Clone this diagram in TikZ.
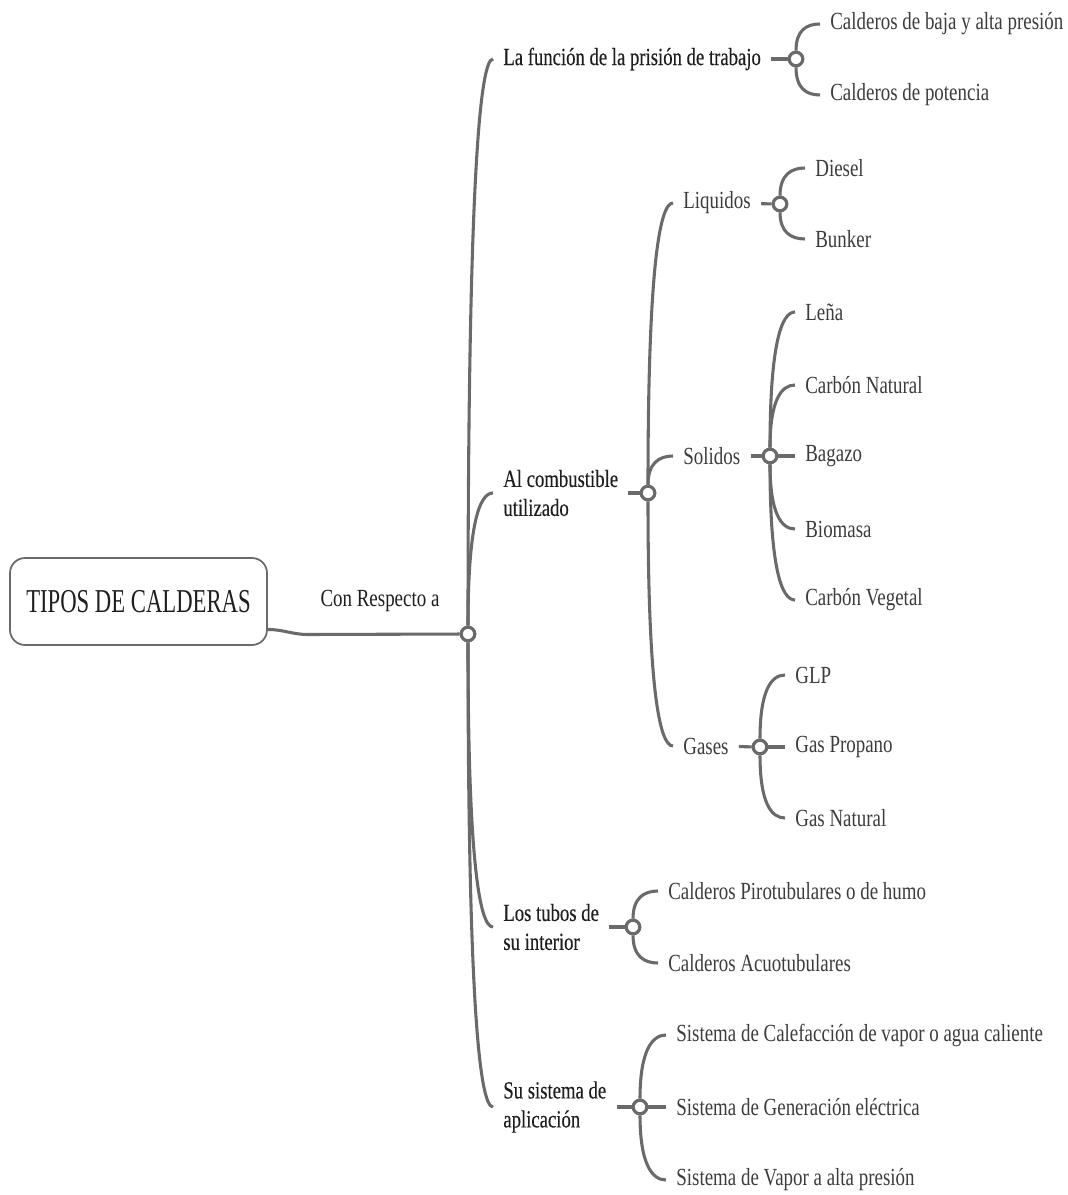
\documentclass[tikz,border=0pt]{standalone}
\usepackage{fontspec}
\setmainfont{Liberation Serif}[FakeStretch=0.77]
\newfontfamily\rootfont{Liberation Serif}[FakeStretch=0.68]
\newfontfamily\topicfont{Liberation Serif}[FakeStretch=0.76, FakeBold=0.3]
\usetikzlibrary{calc}

\definecolor{linegray}{HTML}{6A6A6A}
\definecolor{topicink}{HTML}{1E1E1E}
\definecolor{leafink}{HTML}{3C3C3C}

\tikzset{
  link/.style={draw=linegray, line width=1.75pt},
  twig/.style={to path={.. controls ($(\tikztostart)!0.75!(\tikztostart|-\tikztotarget)$)
      and ($(\tikztotarget)+(-14,0)$) .. (\tikztotarget)}},
  hub/.style={circle, draw=linegray, line width=1.75pt, fill=white,
      inner sep=0pt, minimum size=0.27cm},
  topic/.style={anchor=west, inner xsep=0.2cm, align=left, text=topicink,
      font=\topicfont\fontsize{14}{16.5}\selectfont},
  leaf/.style={anchor=west, inner xsep=0.2cm, text=leafink,
      font=\fontsize{14}{16.5}\selectfont}
}

\begin{document}
\begin{tikzpicture}[x=0.02cm, y=-0.02cm]
\useasboundingbox (0,0) rectangle (1067,1195);

% root
\node[draw=linegray, line width=1pt, rounded corners=0.3cm, minimum width=5.14cm,
  minimum height=1.74cm, text=topicink, font=\rootfont\fontsize{19}{23}\selectfont]
  (root) at (138.5,601.5) {TIPOS DE CALDERAS};
\node[text=topicink, font=\fontsize{14}{16.5}\selectfont] (resp) at (380,601) {Con Respecto a};
\node[hub] (h0) at (468,634) {};

% first level
\node[topic] (fun) at (493,59) {La función de la prisión de trabajo};
\node[topic] (comb) at (493,493) {Al combustible\\utilizado};
\node[topic] (tubos) at (493,927) {Los tubos de\\su interior};
\node[topic] (sist) at (493,1107) {Su sistema de\\aplicación};

\node[hub] (hA) at (796,59) {};
\node[hub] (hB) at (648,493) {};
\node[hub] (hC) at (633,927) {};
\node[hub] (hD) at (640,1107) {};

% presion
\node[leaf] (cbaja) at (820,24) {Calderos de baja y alta presión};
\node[leaf] (cpot) at (820,95) {Calderos de potencia};

% combustible
\node[leaf] (liq) at (673,203) {Liquidos};
\node[leaf] (sol) at (673,456) {Solidos};
\node[leaf] (gas) at (673,746) {Gases};
\node[hub] (hL) at (780,204) {};
\node[hub] (hS) at (770,456) {};
\node[hub] (hG) at (760,747) {};

\node[leaf] (dies) at (805,168) {Diesel};
\node[leaf] (bunk) at (805,239) {Bunker};

\node[leaf] (lena) at (795,312) {Leña};
\node[leaf] (cnat) at (795,385) {Carbón Natural};
\node[leaf] (bag) at (795,456) {Bagazo};
\node[leaf] (biom) at (795,529) {Biomasa};
\node[leaf] (cveg) at (795,600) {Carbón Vegetal};

\node[leaf] (glp) at (785,675) {GLP};
\node[leaf] (gprop) at (785,747) {Gas Propano};
\node[leaf] (gnat) at (785,818) {Gas Natural};

% tubos
\node[leaf] (piro) at (658,891) {Calderos Pirotubulares o de humo};
\node[leaf] (acuo) at (658,963) {Calderos Acuotubulares};

% aplicacion
\node[leaf] (scal) at (666,1035) {Sistema de Calefacción de vapor o agua caliente};
\node[leaf] (sgen) at (666,1107) {Sistema de Generación eléctrica};
\node[leaf] (svap) at (666,1180) {Sistema de Vapor a alta presión};

% connectors
\draw[link] ([yshift=-0.56cm]root.east) to[out=0, in=180] ++(40,5) -- (h0);
\draw[link, twig] (h0.north) to (fun.west);
\draw[link, twig] (h0.north) to (comb.west);
\draw[link, twig] (h0.south) to (tubos.west);
\draw[link, twig] (h0.south) to (sist.west);

\draw[link] (fun) -- (hA);
\draw[link, twig] (hA.north) to (cbaja.west);
\draw[link, twig] (hA.south) to (cpot.west);

\draw[link] (comb.east |- hB) -- (hB);
\draw[link, twig] (hB.north) to (liq.west);
\draw[link, twig] (hB.north) to (sol.west);
\draw[link, twig] (hB.south) to (gas.west);

\draw[link] (liq) -- (hL);
\draw[link, twig] (hL.north) to (dies.west);
\draw[link, twig] (hL.south) to (bunk.west);

\draw[link] (sol) -- (hS);
\draw[link, twig] (hS.north) to (lena.west);
\draw[link, twig] (hS.north) to (cnat.west);
\draw[link] (hS) -- (bag);
\draw[link, twig] (hS.south) to (biom.west);
\draw[link, twig] (hS.south) to (cveg.west);

\draw[link] (gas) -- (hG);
\draw[link, twig] (hG.north) to (glp.west);
\draw[link] (hG) -- (gprop);
\draw[link, twig] (hG.south) to (gnat.west);

\draw[link] (tubos.east |- hC) -- (hC);
\draw[link, twig] (hC.north) to (piro.west);
\draw[link, twig] (hC.south) to (acuo.west);

\draw[link] (sist.east |- hD) -- (hD);
\draw[link, twig] (hD.north) to (scal.west);
\draw[link] (hD) -- (sgen);
\draw[link, twig] (hD.south) to (svap.west);

% hubs on top of lines
\foreach \h in {h0,hA,hB,hC,hD,hL,hS,hG}
  \node[hub] at (\h) {};
\end{tikzpicture}
\end{document}
